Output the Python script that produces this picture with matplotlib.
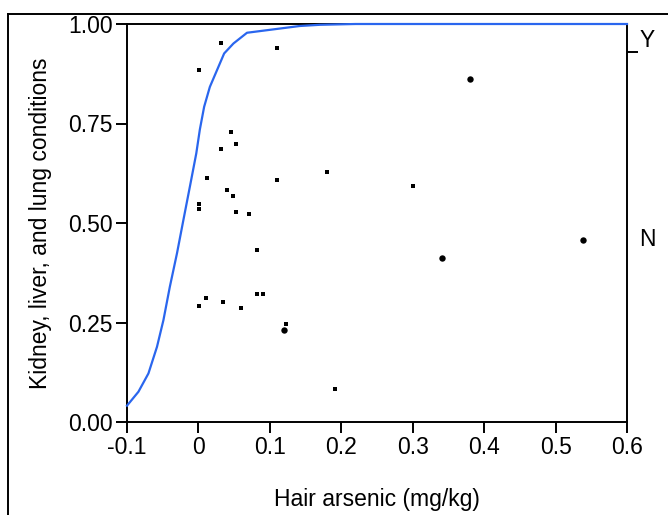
import matplotlib.pyplot as plt
from matplotlib.lines import Line2D

plt.rcParams['font.family'] = ['Liberation Sans', 'DejaVu Sans']

# points drawn as small squares
sq_x = [0.012, 0.110, 0.180, 0.040, 0.049, 0.001, 0.001, 0.052, 0.071, 0.082,
        0.082, 0.091, 0.010, 0.001, 0.035, 0.060, 0.122, 0.191, 0.032, 0.001,
        0.046, 0.052, 0.032, 0.110, 0.300]
sq_y = [0.613, 0.608, 0.628, 0.583, 0.568, 0.548, 0.535, 0.528, 0.523, 0.432,
        0.322, 0.322, 0.312, 0.292, 0.302, 0.287, 0.247, 0.083, 0.953, 0.884,
        0.728, 0.698, 0.686, 0.939, 0.593]

# points drawn as dots
dot_x = [0.120, 0.380, 0.341, 0.539]
dot_y = [0.232, 0.863, 0.412, 0.457]

# fitted probability curve
fit_x = [-0.100, -0.084, -0.070, -0.058, -0.049, -0.040, -0.030, -0.021,
         -0.012, -0.003, 0.002, 0.008, 0.016, 0.026, 0.036, 0.049,
         0.068, 0.142, 0.170, 0.220, 0.600]
fit_y = [0.041, 0.076, 0.122, 0.189, 0.256, 0.340, 0.424, 0.508,
         0.591, 0.675, 0.735, 0.792, 0.842, 0.884, 0.926, 0.951,
         0.978, 0.995, 0.998, 1.000, 1.000]

band_split = 0.93
band_labels = ['Y', 'N']
band_centers = [0.965, 0.465]

xticks = [-0.1, 0, 0.1, 0.2, 0.3, 0.4, 0.5, 0.6]
xtick_labels = ['-0.1', '0', '0.1', '0.2', '0.3', '0.4', '0.5', '0.6']
yticks = [0, 0.25, 0.5, 0.75, 1.0]
ytick_labels = ['0.00', '0.25', '0.50', '0.75', '1.00']

fs = 16.5

fig = plt.figure(figsize=(6.68, 5.15), dpi=100)
ax = fig.add_axes([127 / 668, 93 / 515, 500 / 668, 398 / 515])

ax.plot(fit_x, fit_y, color='#2a66ee', lw=1.6, zorder=3, clip_on=False)
ax.plot(sq_x, sq_y, 's', color='black', ms=2.4, mew=0, zorder=4)
ax.plot(dot_x, dot_y, 'o', color='black', ms=4.6, mew=0, zorder=4)

ax.set_xlim(-0.1, 0.6)
ax.set_ylim(0, 1)
ax.set_xticks(xticks, xtick_labels)
ax.set_yticks(yticks, ytick_labels)
ax.tick_params(labelsize=fs, width=1.4, length=8, pad=2, color='black')
for s in ax.spines.values():
    s.set_linewidth(1.4)

ax.set_xlabel('Hair arsenic (mg/kg)', fontsize=fs, labelpad=21)
ax.set_ylabel('Kidney, liver, and lung conditions', fontsize=fs, labelpad=12)

ax2 = ax.twinx()
ax2.set_ylim(0, 1)
ax2.set_yticks([band_split], [''])
ax2.set_yticks(band_centers, band_labels, minor=True)
ax2.tick_params(which='major', width=1.4, length=8)
ax2.tick_params(which='minor', length=0, labelsize=fs, pad=9)
for s in ax2.spines.values():
    s.set_visible(False)

# outer frame lines
fig.add_artist(Line2D([8 / 668, 1], [1 - 14 / 515, 1 - 14 / 515], color='black', lw=1.4))
fig.add_artist(Line2D([8 / 668, 8 / 668], [0, 1 - 14 / 515], color='black', lw=1.4))

fig.savefig('out.png', dpi=100)
